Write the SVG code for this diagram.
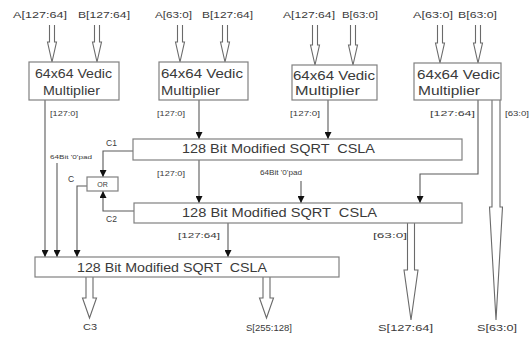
<svg xmlns="http://www.w3.org/2000/svg" width="530" height="341" viewBox="0 0 530 341">
<style>
.box{fill:#fff;stroke:#808080;stroke-width:1.2}
.ln{fill:none;stroke:#5a5a5a;stroke-width:1.1}
.ha{fill:#fff;stroke:#6a6a6a;stroke-width:1.1}
.t{font-family:"Liberation Sans",Arial,sans-serif;fill:#3a3a3a}
.s{font-size:8.5px}
.xs{font-size:7px}
.m{font-size:13px}
</style>
<defs>
<marker id="ah" viewBox="0 0 10 10" refX="10" refY="5" markerWidth="7" markerHeight="7" markerUnits="userSpaceOnUse" orient="auto">
<path d="M0,0 L10,5 L0,10 Z" fill="#111"/>
</marker>
</defs>
<rect width="530" height="341" fill="#fff"/>

<g id="inputs">
<text class="t s" x="13" y="18" textLength="54" lengthAdjust="spacingAndGlyphs">A[127:64]</text>
<text class="t s" x="78" y="18" textLength="52" lengthAdjust="spacingAndGlyphs">B[127:64]</text>
<text class="t s" x="155" y="18" textLength="37" lengthAdjust="spacingAndGlyphs">A[63:0]</text>
<text class="t s" x="202" y="18" textLength="51" lengthAdjust="spacingAndGlyphs">B[127:64]</text>
<text class="t s" x="283" y="18" textLength="52" lengthAdjust="spacingAndGlyphs">A[127:64]</text>
<text class="t s" x="342" y="18" textLength="36" lengthAdjust="spacingAndGlyphs">B[63:0]</text>
<text class="t s" x="413" y="18" textLength="40" lengthAdjust="spacingAndGlyphs">A[63:0]</text>
<text class="t s" x="458" y="18" textLength="39" lengthAdjust="spacingAndGlyphs">B[63:0]</text>
</g>

<g id="connectors">
<path class="ha" d="M49.5,25 V42 H47.5 L52,62 L56.5,42 H54.5 V25"/>
<path class="ha" d="M94.5,25 V42 H92.5 L97,62 L101.5,42 H99.5 V25"/>
<path class="ha" d="M177.5,25 V42 H175.5 L180,62 L184.5,42 H182.5 V25"/>
<path class="ha" d="M222.5,25 V42 H220.5 L225,62 L229.5,42 H227.5 V25"/>
<path class="ha" d="M312.5,25 V45 H310.5 L315,65 L319.5,45 H317.5 V25"/>
<path class="ha" d="M350.5,25 V45 H348.5 L353,65 L357.5,45 H355.5 V25"/>
<path class="ha" d="M437.5,25 V43 H435.5 L440,63 L444.5,43 H442.5 V25"/>
<path class="ha" d="M475.5,25 V43 H473.5 L478,63 L482.5,43 H480.5 V25"/>

<path class="ln" d="M45,100 V257" marker-end="url(#ah)"/>
<path class="ln" d="M199,100 V139" marker-end="url(#ah)"/>
<path class="ln" d="M328,100 V139" marker-end="url(#ah)"/>
<path class="ln" d="M478,100 V174 H420 V203" marker-end="url(#ah)"/>
<path class="ha" d="M492,100 V207 H489.5 L496,320 L502.5,207 H500 V100"/>

<path class="ln" d="M199,160 V203" marker-end="url(#ah)"/>
<path class="ln" d="M301,181 V203" marker-end="url(#ah)"/>

<path class="ln" d="M133,151 H103 V177" marker-end="url(#ah)"/>
<path class="ln" d="M134,211 H103 V191" marker-end="url(#ah)"/>
<path class="ln" d="M87,186 H77 V257" marker-end="url(#ah)"/>
<path class="ln" d="M57,163 V257" marker-end="url(#ah)"/>

<path class="ln" d="M228,223 V257" marker-end="url(#ah)"/>
<path class="ha" d="M407.5,223 V270 H404 L411,320 L418,270 H414.5 V223"/>

<path class="ha" d="M86,277 V298 H82.5 L89.5,318 L96.5,298 H93 V277"/>
<path class="ha" d="M263,277 V298 H259.5 L266.5,318 L273.5,298 H270 V277"/>
</g>

<g id="mult1">
<rect class="box" x="29" y="62" width="90" height="38"/>
<text class="t m" x="35" y="78" textLength="77" lengthAdjust="spacingAndGlyphs">64x64 Vedic</text>
<text class="t m" x="43" y="95" textLength="57" lengthAdjust="spacingAndGlyphs">Multiplier</text>
</g>
<g id="mult2">
<rect class="box" x="159" y="62" width="89" height="38"/>
<text class="t m" x="161" y="78" textLength="82" lengthAdjust="spacingAndGlyphs">64x64 Vedic</text>
<text class="t m" x="161" y="95" textLength="59" lengthAdjust="spacingAndGlyphs">Multiplier</text>
</g>
<g id="mult3">
<rect class="box" x="292" y="65" width="85" height="35"/>
<text class="t m" x="293" y="80" textLength="82" lengthAdjust="spacingAndGlyphs">64x64 Vedic</text>
<text class="t m" x="295" y="95" textLength="65" lengthAdjust="spacingAndGlyphs">Multiplier</text>
</g>
<g id="mult4">
<rect class="box" x="414" y="63" width="87" height="37"/>
<text class="t m" x="417" y="79" textLength="83" lengthAdjust="spacingAndGlyphs">64x64 Vedic</text>
<text class="t m" x="418" y="95" textLength="62" lengthAdjust="spacingAndGlyphs">Multiplier</text>
</g>

<g id="csla1">
<rect class="box" x="133" y="139" width="329" height="21"/>
<text class="t m" x="182" y="153" textLength="193" lengthAdjust="spacingAndGlyphs" xml:space="preserve">128 Bit Modified SQRT  CSLA</text>
</g>
<g id="csla2">
<rect class="box" x="134" y="203" width="328" height="20"/>
<text class="t m" x="182" y="217" textLength="195" lengthAdjust="spacingAndGlyphs" xml:space="preserve">128 Bit Modified SQRT  CSLA</text>
</g>
<g id="csla3">
<rect class="box" x="35" y="257" width="304" height="20"/>
<text class="t m" x="77" y="272" textLength="190" lengthAdjust="spacingAndGlyphs" xml:space="preserve">128 Bit Modified SQRT  CSLA</text>
</g>
<g id="or">
<rect class="box" x="87" y="177" width="31" height="14"/>
<text class="t xs" x="102.5" y="186.5" text-anchor="middle">OR</text>
</g>

<g id="labels">
<text class="t xs" x="50" y="116" textLength="28" lengthAdjust="spacingAndGlyphs">[127:0]</text>
<text class="t xs" x="157" y="116" textLength="28" lengthAdjust="spacingAndGlyphs">[127:0]</text>
<text class="t xs" x="290" y="116" textLength="30" lengthAdjust="spacingAndGlyphs">[127:0]</text>
<text class="t xs" x="430" y="116" textLength="45" lengthAdjust="spacingAndGlyphs">[127:64]</text>
<text class="t xs" x="505" y="116" textLength="24" lengthAdjust="spacingAndGlyphs">[63:0]</text>
<text class="t s" x="106" y="146">C1</text>
<text class="t s" x="106" y="222">C2</text>
<text class="t s" x="68" y="182">C</text>
<text class="t" style="font-size:5.5px" x="50" y="159" textLength="42" lengthAdjust="spacingAndGlyphs">64Bit '0'pad</text>
<text class="t xs" x="157" y="176" textLength="28" lengthAdjust="spacingAndGlyphs">[127:0]</text>
<text class="t xs" x="260" y="175" textLength="42" lengthAdjust="spacingAndGlyphs">64Bit '0'pad</text>
<text class="t xs" x="178" y="238" textLength="42" lengthAdjust="spacingAndGlyphs">[127:64]</text>
<text class="t xs" x="373" y="238" textLength="34" lengthAdjust="spacingAndGlyphs">[63:0]</text>
<text class="t s" x="83" y="330" textLength="14" lengthAdjust="spacingAndGlyphs">C3</text>
<text class="t s" x="246" y="331" textLength="46" lengthAdjust="spacingAndGlyphs">S[255:128]</text>
<text class="t s" x="378" y="331" textLength="55" lengthAdjust="spacingAndGlyphs">S[127:64]</text>
<text class="t s" x="477" y="331" textLength="40" lengthAdjust="spacingAndGlyphs">S[63:0]</text>
</g>
</svg>
